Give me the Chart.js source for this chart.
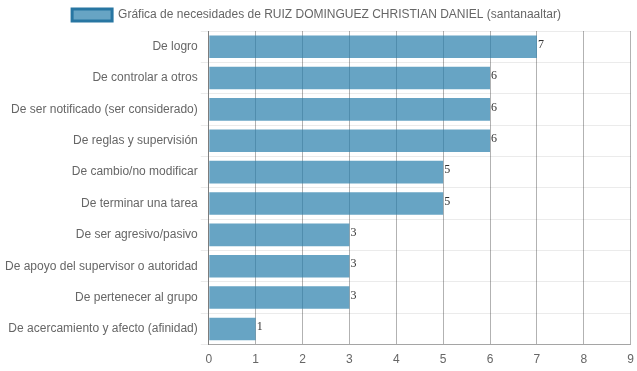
<!DOCTYPE html>
<html>
<head>
<meta charset="utf-8">
<script src="https://cdn.jsdelivr.net/npm/chart.js@4"></script>
<style>
  html, body { margin: 0; padding: 0; background: #fff; }
  #wrap { width: 637px; height: 371px; }
</style>
</head>
<body>
<div id="wrap"><canvas id="myChart"></canvas></div>
<script>
const labels = [
    'De logro',
    'De controlar a otros',
    'De ser notificado (ser considerado)',
    'De reglas y supervisión',
    'De cambio/no modificar',
    'De terminar una tarea',
    'De ser agresivo/pasivo',
    'De apoyo del supervisor o autoridad',
    'De pertenecer al grupo',
    'De acercamiento y afecto (afinidad)'
];
const values = [7, 6, 6, 6, 5, 5, 3, 3, 3, 1];
const seriesName = 'Gráfica de necesidades de RUIZ DOMINGUEZ CHRISTIAN DANIEL (santanaaltar)';

Chart.defaults.font.family = 'Arial, "Liberation Sans", sans-serif';
Chart.defaults.font.size = 12;
Chart.defaults.color = '#666';

// numbers at the end of each bar
const valueLabels = {
    id: 'valueLabels',
    afterDatasetsDraw(chart) {
        const ctx = chart.ctx;
        const meta = chart.getDatasetMeta(0);
        ctx.save();
        ctx.font = '12px "Liberation Serif", "Times New Roman", serif';
        ctx.fillStyle = '#333';
        ctx.textAlign = 'left';
        ctx.textBaseline = 'middle';
        meta.data.forEach((bar, i) => {
            ctx.fillText(chart.data.datasets[0].data[i], bar.x + 1, bar.y - 2);
        });
        ctx.restore();
    }
};

const data = {
    labels: labels,
    datasets: [{
        label: seriesName,
        backgroundColor: 'rgba(39, 126, 171, 0.7)',
        borderColor: 'rgb(40, 118, 162)',
        borderWidth: 0,
        data: values
    }]
};

const config = {
    type: 'bar',
    data: data,
    plugins: [valueLabels],
    options: {
        indexAxis: 'y',
        responsive: true,
        maintainAspectRatio: false,
        animation: false,
        layout: { padding: { left: 2, right: 6, bottom: 1, top: -1 } },
        plugins: {
            legend: {
                labels: {
                    boxWidth: 40,
                    generateLabels(chart) {
                        const ds = chart.data.datasets[0];
                        return [{
                            text: ds.label,
                            fillStyle: ds.backgroundColor,
                            strokeStyle: ds.borderColor,
                            lineWidth: 3,
                            datasetIndex: 0,
                            fontColor: '#666'
                        }];
                    }
                }
            },
            tooltip: { enabled: false }
        },
        scales: {
            x: {
                min: 0,
                max: 9,
                ticks: { stepSize: 1 },
                grid: { color: 'rgba(0,0,0,0.3)', tickLength: 5, tickColor: 'rgba(0,0,0,0)' },
                border: { color: 'rgba(0,0,0,0.3)' }
            },
            y: {
                grid: { color: 'rgba(0,0,0,0.08)', offset: true },
                border: { color: 'rgba(0,0,0,0.3)' }
            }
        }
    }
};

var myChart = new Chart(
    document.getElementById('myChart'),
    config
);
</script>
</body>
</html>
